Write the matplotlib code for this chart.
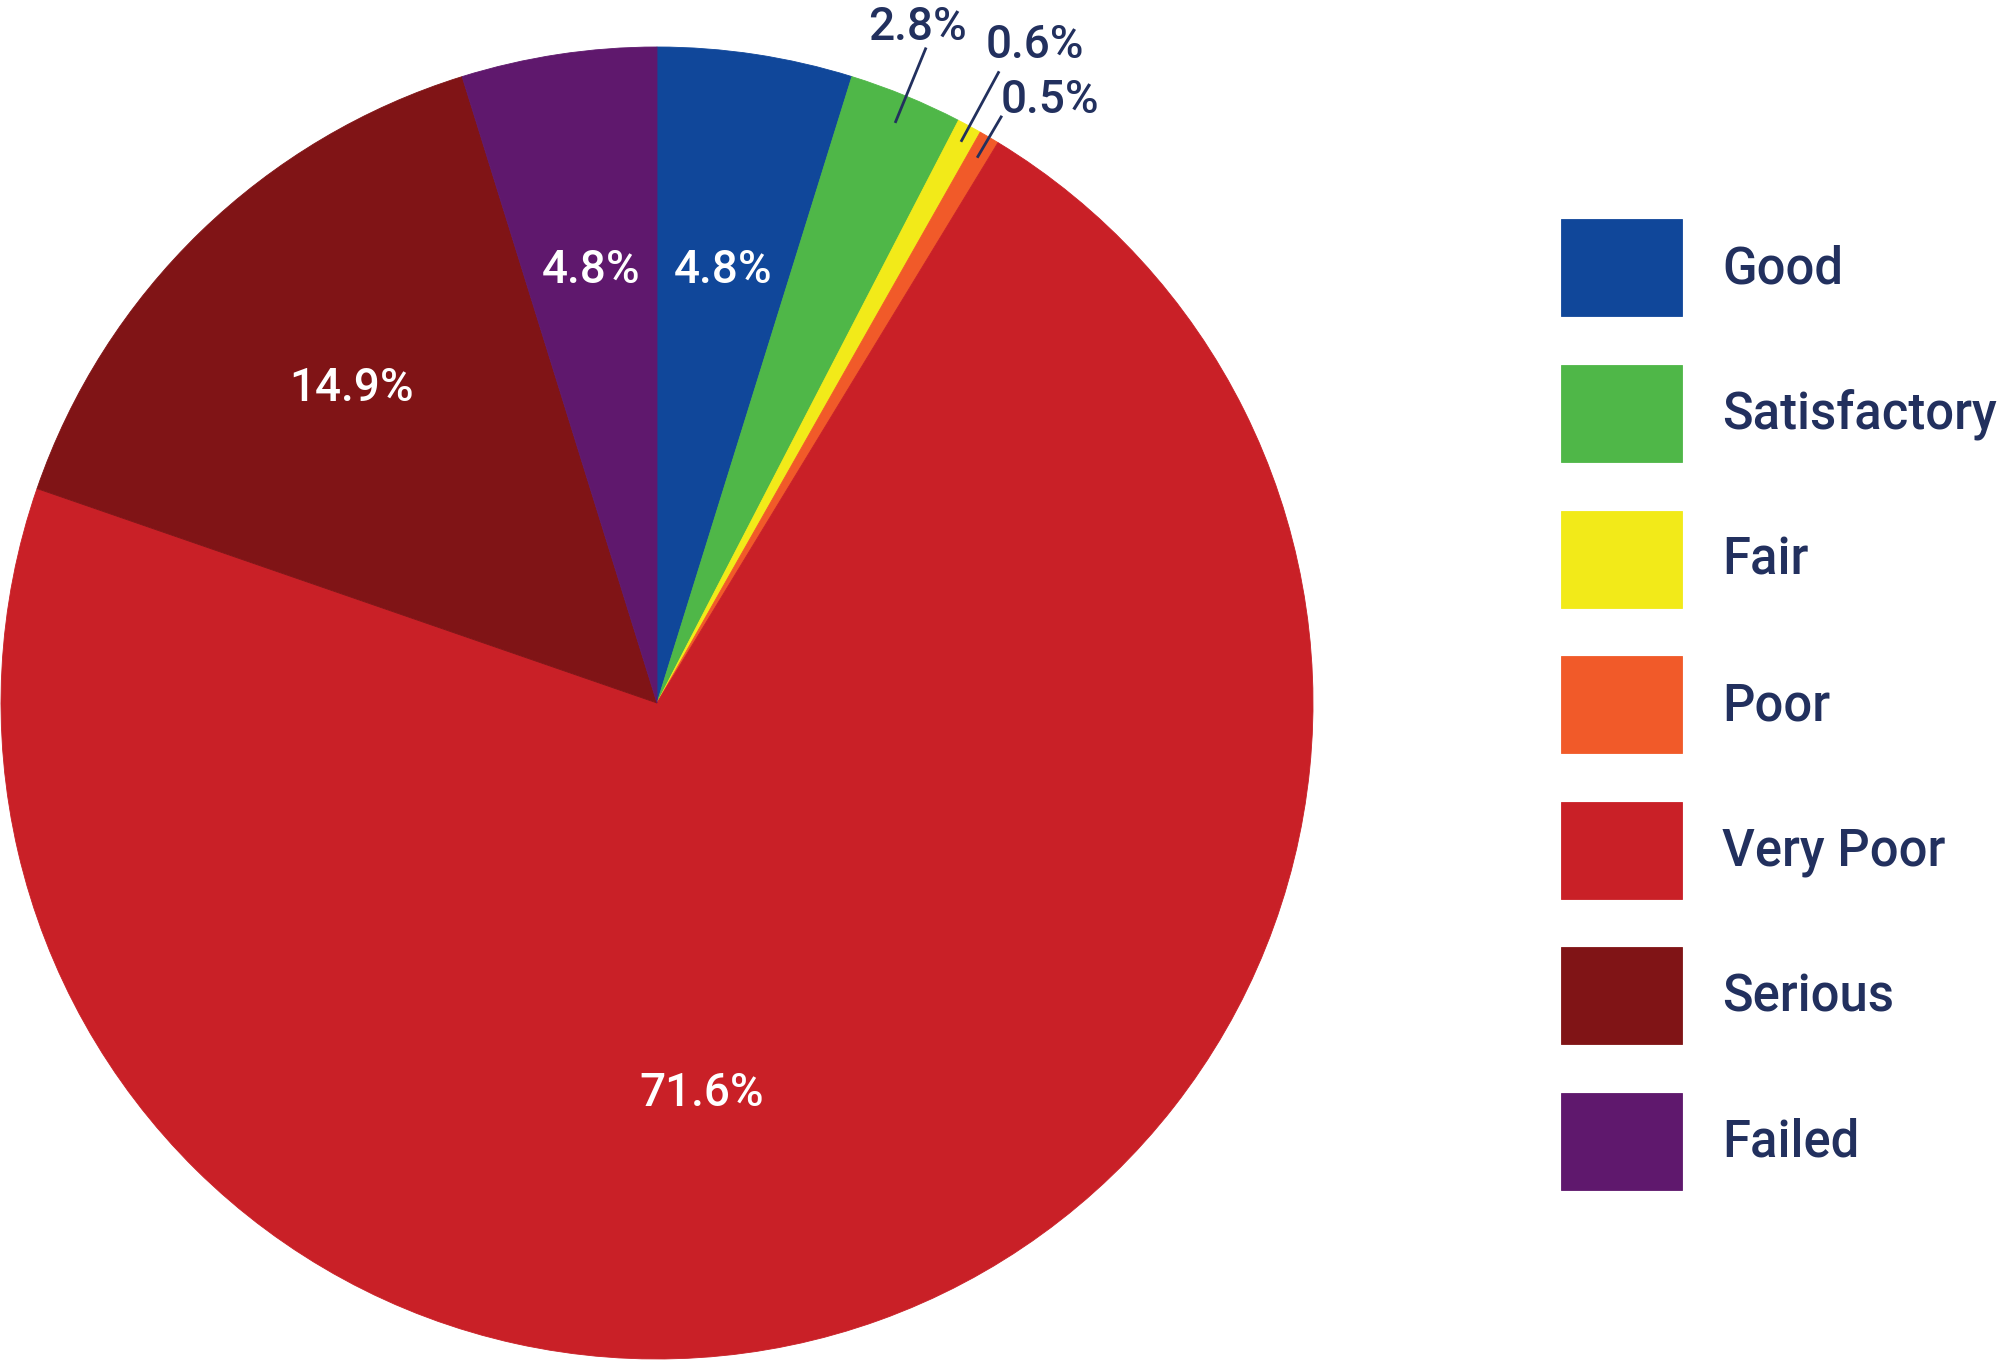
import numpy as np
import matplotlib
matplotlib.use("Agg")
import matplotlib.pyplot as plt

plt.rcParams['font.family'] = ['Roboto', 'DejaVu Sans']
plt.rcParams['font.weight'] = 'medium'

categories = ["Good", "Satisfactory", "Fair", "Poor", "Very Poor", "Serious", "Failed"]
shares = [4.8, 2.8, 0.6, 0.5, 71.6, 14.9, 4.8]
colors = ["#10479a", "#4fb748", "#f2ea19", "#f15a29", "#c92027", "#801416", "#5f186d"]
pct_labels = ["4.8%", "2.8%", "0.6%", "0.5%", "71.6%", "14.9%", "4.8%"]

navy = "#22305e"

fig = plt.figure(figsize=(20, 13.62), dpi=100)
ax = fig.add_axes([0, 0, 1, 1])

cx, cy, R = 657, 659, 656
wedges, _ = ax.pie(shares, colors=colors, startangle=90, counterclock=False,
                   center=(cx, cy), radius=R,
                   wedgeprops=dict(linewidth=0.6))
for w, c in zip(wedges, colors):
    w.set_edgecolor(c)

ax.set_xlim(0, 2000)
ax.set_ylim(0, 1362)
ax.set_aspect('equal')
ax.axis('off')

# inside labels: (radius fraction, angle override)
inside = {0: (0.668, None), 4: (0.598, -83.4), 5: (0.668, None), 6: (0.668, None)}
for i, (rf, ang) in inside.items():
    w = wedges[i]
    a = ang if ang is not None else (w.theta1 + w.theta2) / 2
    t = np.deg2rad(a)
    ax.text(cx + rf * R * np.cos(t), cy + rf * R * np.sin(t), pct_labels[i],
            color="white", fontsize=33, ha="center", va="center")

# outside labels with leader lines: (line start r, line end r, text r, text angle)
outside = {1: (0.958, 1.078, 1.105, 68.9),
           2: (0.975, 1.093, 1.157, 60.1),
           3: (0.966, 1.036, 1.098, 56.9)}
for i, (r0, r1, rt, ta) in outside.items():
    w = wedges[i]
    a = np.deg2rad((w.theta1 + w.theta2) / 2)
    ax.plot([cx + r0 * R * np.cos(a), cx + r1 * R * np.cos(a)],
            [cy + r0 * R * np.sin(a), cy + r1 * R * np.sin(a)],
            color=navy, lw=2)
    tt = np.deg2rad(ta)
    ax.text(cx + rt * R * np.cos(tt), cy + rt * R * np.sin(tt), pct_labels[i],
            color=navy, fontsize=33, ha="center", va="center")

leg = ax.legend(wedges, categories, loc="upper left",
                bbox_to_anchor=(0.7805, 0.839), bbox_transform=fig.transFigure,
                frameon=False, fontsize=36.5, borderpad=0, borderaxespad=0,
                handlelength=2.386, handleheight=2.566, labelspacing=0.96,
                handletextpad=0.79)
for t in leg.get_texts():
    t.set_color(navy)

fig.savefig("out.png", dpi=100)
